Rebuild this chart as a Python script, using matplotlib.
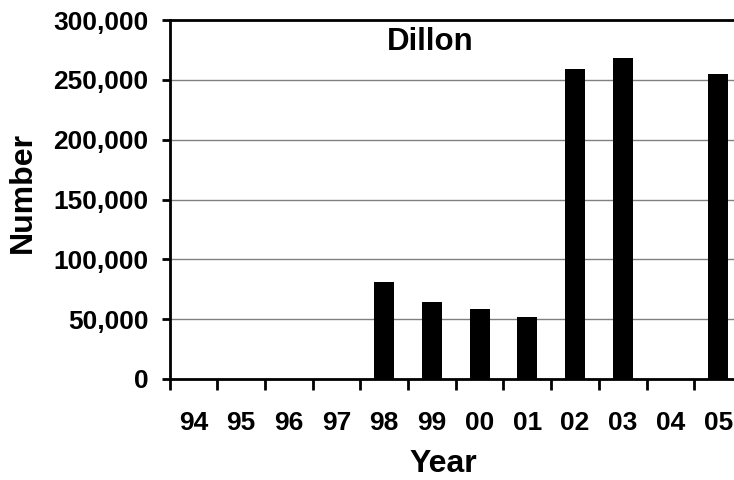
import matplotlib.pyplot as plt
from matplotlib.ticker import FuncFormatter, FixedLocator

# Data
years = ['94', '95', '96', '97', '98', '99', '00', '01', '02', '03', '04', '05']
counts = [0, 0, 0, 0, 81300, 64300, 58500, 51800, 259000, 268200, 0, 254900]

plt.rcParams['font.family'] = ['Liberation Sans', 'DejaVu Sans']
plt.rcParams['font.weight'] = 'bold'

fig = plt.figure(figsize=(7.34, 4.8), dpi=100)
ax = fig.add_axes([169.5 / 734, 1 - 379 / 480, 572.5 / 734, 359 / 480])

x = range(len(years))
ax.bar(x, counts, width=0.42, color='black', zorder=3)

ax.set_xlim(-0.5, len(years) - 0.5)
ax.set_ylim(0, 300000)

# gridlines
ax.set_yticks(range(0, 300001, 50000))
ax.yaxis.set_major_formatter(FuncFormatter(lambda v, p: f'{int(v):,}'))
ax.grid(axis='y', color='#808080', linewidth=1, zorder=0)

# category labels at centres, tick marks between categories
ax.set_xticks(list(x))
ax.set_xticklabels(years)
ax.xaxis.set_minor_locator(FixedLocator([i - 0.5 for i in range(len(years) + 1)]))
ax.tick_params(axis='x', which='major', length=0, pad=23, labelsize=19)
ax.tick_params(axis='x', which='minor', length=8, width=2, direction='out')
ax.tick_params(axis='y', length=6, width=2, direction='out', pad=9, labelsize=19)

for side in ['left', 'bottom', 'top']:
    ax.spines[side].set_linewidth(2)
    ax.spines[side].set_color('black')
ax.spines['right'].set_visible(False)

ax.set_xlabel('Year', fontsize=23, fontweight='bold', va='center')
ax.xaxis.set_label_coords(0.479, -0.236)
ax.set_ylabel('Number', fontsize=23, fontweight='bold', va='center')
ax.yaxis.set_label_coords(-0.256, 0.52)

ax.text(0.456, 0.938, 'Dillon', transform=ax.transAxes, ha='center', va='center',
        fontsize=22.5, fontweight='bold')

fig.savefig('out.png', dpi=100)
